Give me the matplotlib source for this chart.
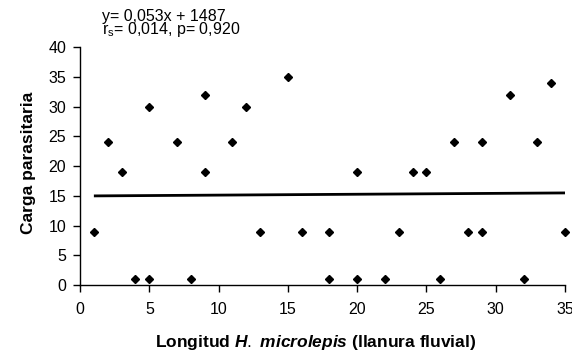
import matplotlib
matplotlib.use("Agg")
import matplotlib.pyplot as plt

plt.rcParams['font.family'] = ['Liberation Sans', 'DejaVu Sans']
plt.rcParams['mathtext.fontset'] = 'custom'
plt.rcParams['mathtext.rm'] = 'Liberation Sans'
plt.rcParams['mathtext.it'] = 'Liberation Sans:italic:bold'

# longitud vs carga parasitaria
longitud = [1, 2, 3, 4, 5, 5, 7, 8, 9, 9, 11, 12, 13, 15, 16, 18, 18,
            20, 20, 22, 23, 24, 25, 26, 27, 28, 29, 29, 31, 32, 33, 34, 35]
carga = [9, 24, 19, 1, 1, 30, 24, 1, 32, 19, 24, 30, 9, 35, 9, 9, 1,
         19, 1, 1, 9, 19, 19, 1, 24, 9, 24, 9, 32, 1, 24, 34, 9]

# recta de tendencia (como se ve en la figura)
recta_x = [1, 35]
recta_y = [15.0, 15.5]

x_ticks = [0, 5, 10, 15, 20, 25, 30, 35]
y_ticks = [0, 5, 10, 15, 20, 25, 30, 35, 40]

ecuacion = 'y= 0,053x + 1487\n' + r'r$_{\rm s}$= 0,014, p= 0,920'

fig = plt.figure(figsize=(5.72, 3.51), dpi=100)
ax = fig.add_axes([0.1399, 0.188, 0.848, 0.677])

ax.plot(recta_x, recta_y, color='black', lw=2, solid_capstyle='butt')
ax.plot(longitud, carga, 'D', color='black', ms=4.5, ls='none', clip_on=False)

ax.set_xlim(0, 35)
ax.set_ylim(0, 40)
ax.set_xticks(x_ticks)
ax.set_yticks(y_ticks)
ax.tick_params(axis='both', direction='out', length=5, width=1, labelsize=11.5, colors='black')
ax.tick_params(axis='x', pad=7)
ax.tick_params(axis='y', pad=5)

for s in ['top', 'right']:
    ax.spines[s].set_visible(False)
for s in ['left', 'bottom']:
    ax.spines[s].set_linewidth(1)

ax.set_ylabel('Carga parasitaria', fontsize=12.5, fontweight='bold', labelpad=9)
ax.set_xlabel(r'Longitud $\it{H.\ microlepis}$ (llanura fluvial)', fontsize=12.5,
              fontweight='bold', labelpad=12)
ax.xaxis.label.set_x(0.4856)
ax.yaxis.label.set_y(0.513)

# ancla en la linea base de la segunda linea
fig.text(0.178, 1 - 34.3 / 351, ecuacion, fontsize=11.5, ha='left', va='baseline',
         linespacing=0.72)

fig.savefig('out.png', dpi=100)
